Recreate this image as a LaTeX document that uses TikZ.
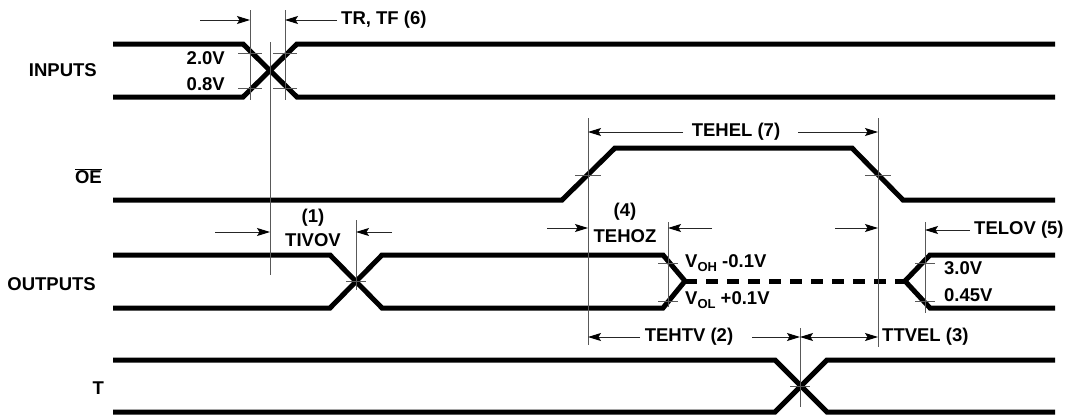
\documentclass[tikz,border=0pt]{standalone}
\usepackage{fontspec}
\setmainfont{Liberation Sans}
\usetikzlibrary{arrows.meta}

\begin{document}
\begin{tikzpicture}[x=1pt,y=-1pt,
    sig/.style={line width=5pt},
    guide/.style={line width=0.8pt,black!65},
    dimarrow/.style={line width=1pt,black!85,-{Stealth[length=13pt,width=8pt,inset=2.5pt,black]}},
    twoway/.style={line width=1pt,black!85,{Stealth[length=13pt,width=8pt,inset=2.5pt,black]}-{Stealth[length=13pt,width=8pt,inset=2.5pt,black]}},
    lbl/.style={font=\fontsize{18.5}{20}\selectfont\bfseries,inner sep=1pt}]
  \useasboundingbox (0,0) rectangle (1068,415);
  \def\xl{113} \def\xr{1055}   % signal ends
  % signals
  \draw[sig] (\xl,44) -- (243,44) -- (297,97) -- (\xr,97);
  \draw[sig] (\xl,97) -- (243,97) -- (297,44) -- (\xr,44);
  \draw[sig] (\xl,200) -- (562,200) -- (615,148) -- (852,148) -- (903,200) -- (\xr,200);
  \draw[sig] (\xl,255) -- (330,255) -- (382,308) -- (663,308) -- (685,281);
  \draw[sig] (\xl,308) -- (330,308) -- (382,255) -- (663,255) -- (685,281);
  \draw[sig,dash pattern=on 12pt off 9pt] (685,281) -- (905,281);
  \draw[sig] (905,281) -- (930,255) -- (\xr,255);
  \draw[sig] (905,281) -- (930,308) -- (\xr,308);
  \draw[sig] (\xl,360) -- (775,360) -- (827,412) -- (\xr,412);
  \draw[sig] (\xl,412) -- (775,412) -- (827,360) -- (\xr,360);
  % guide lines
  \foreach \x in {250,285} { \draw[guide] (\x,10) -- (\x,100); }
  \foreach \x in {250,285} { \foreach \y in {53,88} { \draw[guide] (\x-12,\y) -- (\x+12,\y); } }
  \draw[guide] (270,42) -- (270,275);
  \draw[guide] (588,118) -- (588,345);
  \draw[guide] (878,118) -- (878,347);
  \foreach \x in {588,878} { \draw[guide] (\x-13,175) -- (\x+13,175); }
  \draw[guide] (356,220) -- (356,290);
  \draw[guide] (346,281) -- (366,281);
  \draw[guide] (668,222) -- (668,307);
  \draw[guide] (925,222) -- (925,313);
  \foreach \x in {668,925} { \foreach \y in {263,301} { \draw[guide] (\x-10,\y) -- (\x+10,\y); } }
  \draw[guide] (800,328) -- (800,407);
  \draw[guide] (790,386) -- (810,386);
  % timing arrows
  \draw[dimarrow] (200,20) -- (250,20);
  \draw[dimarrow] (337,20) -- (285,20);
  \draw[dimarrow] (683,132) -- (588,132);
  \draw[dimarrow] (798,132) -- (878,132);
  \draw[dimarrow] (215,232) -- (270,232);
  \draw[dimarrow] (392,232) -- (356,232);
  \draw[dimarrow] (547,228) -- (588,228);
  \draw[dimarrow] (712,228) -- (668,228);
  \draw[dimarrow] (835,228) -- (878,228);
  \draw[dimarrow] (970,230) -- (925,230);
  \draw[dimarrow] (640,337) -- (588,337);
  \draw[dimarrow] (752,337) -- (800,337);
  \draw[twoway] (800,337) -- (878,337);
  % signal names
  \node[lbl,anchor=east] (inputs) at (98,70) {INPUTS};
  \node[lbl,anchor=east] (oe) at (103,176) {$\overline{\hbox{OE}}$};
  \node[lbl,anchor=east] (outputs) at (97,284) {OUTPUTS};
  \node[lbl,anchor=east] (tsig) at (105,388) {T};
  % levels
  \node[lbl,anchor=east] (vih) at (226,58) {2.0V};
  \node[lbl,anchor=east] (vil) at (226,84) {0.8V};
  \node[lbl,anchor=west] (voh) at (684,263) {V\raisebox{-0.45ex}{\fontsize{13}{13}\selectfont OH} -0.1V};
  \node[lbl,anchor=west] (vol) at (684,300) {V\raisebox{-0.45ex}{\fontsize{13}{13}\selectfont OL} +0.1V};
  \node[lbl,anchor=west] (voh2) at (943,268) {3.0V};
  \node[lbl,anchor=west] (vol2) at (943,295) {0.45V};
  % timing names
  \node[lbl,anchor=west] (trtf) at (340,20) {TR, TF (6)};
  \node[lbl] (tehel) at (736,132) {TEHEL (7)};
  \node[lbl] (n1) at (313,218) {(1)};
  \node[lbl] (tivov) at (313,240) {TIVOV};
  \node[lbl] (n4) at (625,212) {(4)};
  \node[lbl] (tehoz) at (625,236) {TEHOZ};
  \node[lbl,anchor=west] (telov) at (973,230) {TELOV (5)};
  \node[lbl] (tehtv) at (689,337) {TEHTV (2)};
  \node[lbl,anchor=west] (ttvel) at (881,337) {TTVEL (3)};
\end{tikzpicture}
\end{document}
